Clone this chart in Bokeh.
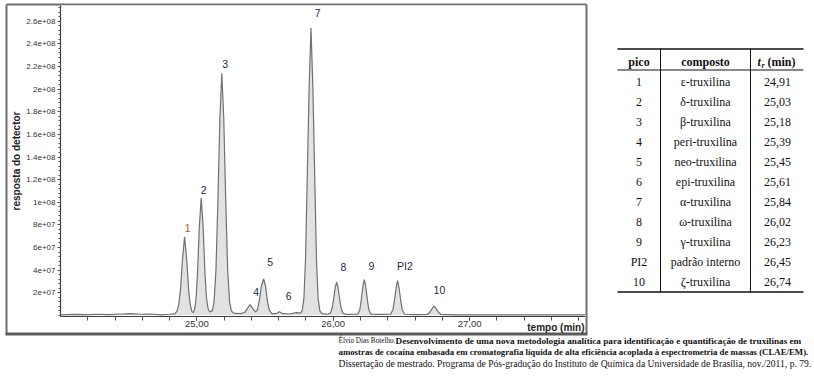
from bokeh.plotting import figure
from bokeh.models import Range1d, FixedTicker, ColumnDataSource
from bokeh.embed import file_html
from bokeh.resources import INLINE
from bokeh.core.properties import value
import numpy as np

# ---------------- chromatogram trace ----------------
time_min = [24.00, 24.10, 24.20, 24.28, 24.35, 24.45, 24.52, 24.58, 24.66, 24.74, 24.80, 24.84,
            24.855, 24.868, 24.88, 24.895, 24.91, 24.925, 24.94, 24.952, 24.965,
            24.975, 24.985, 24.995, 25.005, 25.018, 25.032, 25.046, 25.059, 25.07, 25.082, 25.095,
            25.113, 25.126, 25.140, 25.154, 25.169, 25.183, 25.197, 25.212, 25.226, 25.240, 25.253,
            25.27, 25.32, 25.35, 25.37, 25.39, 25.41, 25.43,
            25.445, 25.458, 25.473, 25.49, 25.505, 25.518, 25.532, 25.55,
            25.58, 25.605, 25.63, 25.68, 25.73, 25.76,
            25.772, 25.785, 25.797, 25.810, 25.823, 25.837, 25.851, 25.864, 25.877, 25.889, 25.902, 25.918,
            25.96, 25.98, 25.993, 26.005, 26.015, 26.025, 26.035, 26.045, 26.057, 26.07,
            26.10, 26.18, 26.195, 26.207, 26.218, 26.228, 26.238, 26.249, 26.261, 26.276,
            26.35, 26.42, 26.438, 26.45, 26.462, 26.472, 26.482, 26.494, 26.506, 26.524,
            26.60, 26.69, 26.71, 26.725, 26.74, 26.755, 26.77, 26.79,
            26.90, 27.30, 27.85]
response = [0.05e7, 0.08e7, 0.06e7, 0.10e7, 0.06e7, 0.12e7, 0.15e7, 0.10e7, 0.12e7, 0.05e7, 0.10e7, 0.15e7,
            0.4e7, 1.0e7, 2.3e7, 5.0e7, 6.95e7, 5.0e7, 2.2e7, 0.9e7, 0.3e7,
            0.25e7, 0.6e7, 1.6e7, 3.8e7, 7.8e7, 10.4e7, 7.8e7, 3.8e7, 1.6e7, 0.6e7, 0.3e7,
            0.4e7, 1.2e7, 4.0e7, 10.0e7, 17.5e7, 21.4e7, 17.5e7, 10.0e7, 4.0e7, 1.2e7, 0.4e7,
            0.2e7, 0.15e7, 0.25e7, 0.6e7, 0.96e7, 0.6e7, 0.3e7,
            0.5e7, 1.3e7, 2.6e7, 3.23e7, 2.5e7, 1.2e7, 0.45e7, 0.15e7,
            0.15e7, 0.32e7, 0.15e7, 0.12e7, 0.25e7, 0.2e7,
            0.4e7, 1.5e7, 5.0e7, 12.5e7, 20.0e7, 25.4e7, 20.0e7, 12.5e7, 5.0e7, 1.5e7, 0.4e7, 0.15e7,
            0.1e7, 0.2e7, 0.7e7, 1.6e7, 2.5e7, 2.93e7, 2.5e7, 1.6e7, 0.7e7, 0.2e7,
            0.08e7, 0.1e7, 0.5e7, 1.5e7, 2.6e7, 3.17e7, 2.6e7, 1.5e7, 0.5e7, 0.1e7,
            0.08e7, 0.1e7, 0.5e7, 1.4e7, 2.5e7, 3.08e7, 2.5e7, 1.4e7, 0.5e7, 0.1e7,
            0.06e7, 0.08e7, 0.3e7, 0.6e7, 0.81e7, 0.6e7, 0.3e7, 0.08e7,
            0.05e7, 0.05e7, 0.05e7]

peak_names = ["1", "2", "3", "4", "5", "6", "7", "8", "9", "PI2", "10"]
label_time = [24.932, 25.05, 25.208, 25.435, 25.537, 25.674, 25.886, 26.074, 26.28, 26.526, 26.779]
label_resp = [7.74e7, 1.11e8, 2.22e8, 2.09e7, 4.74e7, 1.70e7, 2.67e8, 4.30e7, 4.35e7, 4.35e7, 2.2e7]
label_color = ["#b5531f", "#1e2a48", "#1e2a48", "#1e2a48", "#1e2a48", "#1e2a48",
               "#1e2a48", "#1e2a48", "#1e2a48", "#1e2a48", "#1e2a48"]

y_ticks = [2e7, 4e7, 6e7, 8e7, 1e8, 1.2e8, 1.4e8, 1.6e8, 1.8e8, 2e8, 2.2e8, 2.4e8, 2.6e8]
y_tick_labels = ["2e+07", "4e+07", "6e+07", "8e+07", "1e+08", "1.2e+08", "1.4e+08", "1.6e+08",
                 "1.8e+08", "2e+08", "2.2e+08", "2.4e+08", "2.6e+08"]
x_ticks = [25, 26, 27]
x_tick_labels = ["25,00", "26,00", "27,00"]

# ---------------- table ----------------
pico = ["1", "2", "3", "4", "5", "6", "7", "8", "9", "PI2", "10"]
composto = ["ε-truxilina", "δ-truxilina", "β-truxilina", "peri-truxilina", "neo-truxilina",
            "epi-truxilina", "α-truxilina", "ω-truxilina", "γ-truxilina", "padrão interno", "ζ-truxilina"]
tr_min = ["24,91", "25,03", "25,18", "25,39", "25,45", "25,61", "25,84", "26,02", "26,23", "26,45", "26,74"]

caption_author = "Élvio Dias Botelho."
caption_title_1 = "Desenvolvimento de uma nova metodologia analítica para identificação e quantificação de truxilinas em"
caption_title_2 = "amostras de cocaína embasada em cromatografia líquida de alta eficiência acoplada à espectrometria de massas (CLAE/EM)."
caption_tail = "Dissertação de mestrado. Programa de Pós-gradução do Instituto de Química da Universidade de Brasília, nov./2011, p. 79."

SANS = "Liberation Sans"
SERIF = "Liberation Serif"
W, H = 814, 377

# ---------------- page figure (table, caption, chart frame) in page pixels ----------------
pg = figure(width=W, height=H, output_backend="svg", toolbar_location=None,
            x_range=Range1d(0, W), y_range=Range1d(H, 0),
            x_axis_location=None, y_axis_location=None,
            min_border_left=0, min_border_right=0, min_border_top=0, min_border_bottom=0)
pg.outline_line_color = None
pg.grid.visible = False
pg.background_fill_color = "white"
pg.border_fill_color = "white"

# outer frame around the chart
pg.segment(x0=[6, 6, 586], y0=[4, 4, 4], x1=[586, 6, 586], y1=[4, 333, 333],
           line_color="#6e6e6e", line_width=2)
pg.segment(x0=[5], y0=[333.5], x1=[587], y1=[333.5], line_color="#5a5a5a", line_width=3)
pg.text(x=[584], y=[327], text=["tempo (min)"], text_align="right", text_baseline="middle",
        text_font=value(SANS), text_font_style="bold", text_font_size="10px", text_color="#222222")

# table
n = len(pico)
row_y = [81.5 + 20 * i for i in range(n)]
cells = ColumnDataSource(dict(x=[638.5] * n + [705] * n + [777] * n, y=row_y * 3,
                              txt=pico + composto + tr_min))
pg.text(x="x", y="y", text="txt", source=cells, text_font=value(SERIF), text_font_size="12px",
        text_align="center", text_baseline="middle", text_color="#111111")
hdr_y = 61.5
pg.text(x=[638.5, 705], y=[hdr_y, hdr_y], text=["pico", "composto"], text_font=value(SERIF),
        text_font_style="bold", text_font_size="12px", text_align="center",
        text_baseline="middle", text_color="#111111")
pg.text(x=[757], y=[hdr_y], text=["t"], text_font=value(SERIF), text_font_style="bold italic",
        text_font_size="12px", text_baseline="middle", text_color="#111111")
pg.text(x=[761], y=[hdr_y + 3.5], text=["r"], text_font=value(SERIF), text_font_style="bold italic",
        text_font_size="8px", text_baseline="middle", text_color="#111111")
pg.text(x=[767], y=[hdr_y], text=["(min)"], text_font=value(SERIF), text_font_style="bold",
        text_font_size="12px", text_baseline="middle", text_color="#111111")
pg.segment(x0=[617, 617], y0=[48.5, 291.5], x1=[803, 803], y1=[48.5, 291.5],
           line_color="#111111", line_width=1.6)
pg.segment(x0=[617, 660, 750], y0=[69.5, 48, 48], x1=[803, 660, 750], y1=[69.5, 292, 292],
           line_color="#111111", line_width=1.0)

# caption
cap = dict(text_font=value(SERIF), text_baseline="middle", text_color="#111111")
pg.text(x=[338], y=[340.5], text=[caption_author], text_font_size="7.2px", **cap)
pg.text(x=[395], y=[340.5], text=[caption_title_1], text_font_style="bold", text_font_size="9.2px", **cap)
pg.text(x=[338], y=[351.5], text=[caption_title_2], text_font_style="bold", text_font_size="8.8px", **cap)
pg.text(x=[338], y=[362.5], text=[caption_tail], text_font_size="9.6px", **cap)

# ---------------- chart, placed over the page figure ----------------
p = figure(width=578, height=329, output_backend="svg", toolbar_location=None,
           x_range=Range1d(24.0, 27.85), y_range=Range1d(-0.1e7, 2.74e8),
           min_border_left=53, min_border_right=0, min_border_top=0, min_border_bottom=18)
p.styles = {"position": "absolute", "left": "7px", "top": "5px"}
p.outline_line_color = None
p.grid.visible = False
p.background_fill_color = "white"
p.border_fill_alpha = 0

src = ColumnDataSource(dict(t=time_min, r=response))
p.varea(x="t", y1=0, y2="r", source=src, fill_color="#e2e2e2")
p.line(x="t", y="r", source=src, line_color="#707070", line_width=1.2)

lsrc = ColumnDataSource(dict(t=label_time, r=label_resp, n=peak_names, c=label_color))
p.text(x="t", y="r", text="n", source=lsrc, text_color="c", text_font=value(SANS),
       text_font_size="10.5px", text_align="center", text_baseline="middle")

x_minor = [round(v, 1) for v in np.arange(24.2, 27.81, 0.2)]
p.xaxis.ticker = FixedTicker(ticks=x_ticks, minor_ticks=x_minor)
p.xaxis.major_label_overrides = {t: l for t, l in zip(x_ticks, x_tick_labels)}
y_minor = list(np.arange(0, 2.74e8, 0.4e7))
p.yaxis.ticker = FixedTicker(ticks=y_ticks, minor_ticks=y_minor)
p.yaxis.major_label_overrides = {t: l for t, l in zip(y_ticks, y_tick_labels)}

for ax in (p.xaxis[0], p.yaxis[0]):
    ax.axis_line_color = "#404040"
    ax.axis_line_width = 1.2
    ax.major_tick_line_color = "#404040"
    ax.minor_tick_line_color = "#505050"
    ax.major_tick_in = 0
    ax.minor_tick_in = 0
    ax.major_label_text_font = SANS
    ax.major_label_text_color = "#333333"

p.xaxis.major_label_text_font_size = "9.5px"
p.xaxis.major_label_standoff = 0
p.xaxis.major_tick_out = 4
p.xaxis.minor_tick_out = 4
p.yaxis.major_label_text_font_size = "8px"
p.yaxis.major_label_standoff = 2
p.yaxis.major_tick_out = 3
p.yaxis.minor_tick_out = 2
p.yaxis.axis_label = "resposta do detector"
p.yaxis.axis_label_text_font = SANS
p.yaxis.axis_label_text_font_style = "bold"
p.yaxis.axis_label_text_font_size = "10px"
p.yaxis.axis_label_text_color = "#222222"
p.yaxis.axis_label_standoff = 1

open("out.html", "w").write(file_html([pg, p], INLINE))
